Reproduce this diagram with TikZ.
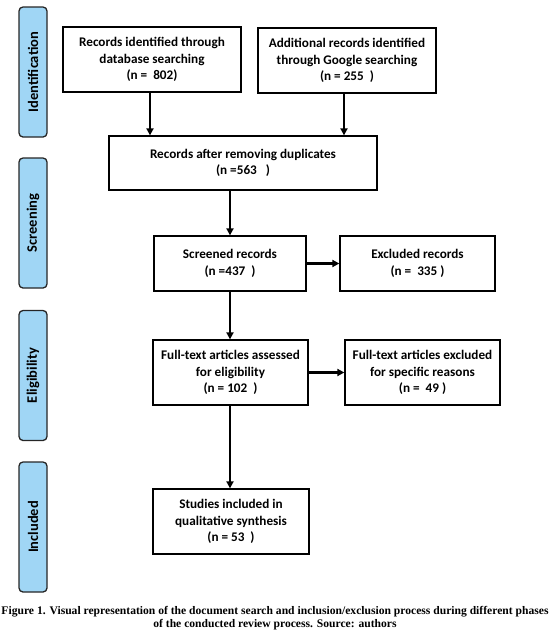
\documentclass[tikz,border=0pt]{standalone}
\usepackage{fontspec}
\setmainfont{Carlito}
\newfontfamily\capfont{Liberation Serif}
\usetikzlibrary{arrows.meta}
\definecolor{phaseblue}{RGB}{160,214,245}
\tikzset{
  box/.style={draw=black, line width=1.3pt, fill=white, inner sep=0pt, align=center,
    font=\fontsize{13.2}{16.5}\selectfont\bfseries},
  phase/.style={draw=black!85, line width=1.3pt, fill=phaseblue, rounded corners=4pt,
    minimum width=28pt, minimum height=130pt, inner sep=0pt},
  phasetext/.style={rotate=90, font=\fontsize{14.5}{16}\selectfont\bfseries},
  flow/.style={-{Triangle[length=7pt,width=7pt]}, line width=2.3pt},
}
\begin{document}
\begin{tikzpicture}[x=1pt,y=-1pt]
\useasboundingbox (0,0) rectangle (550,638);
% phase labels
\node[phase] (pid) at (33,72) {};
\node[phasetext] (tid) at (pid.center) {Identification};
\node[phase] (psc) at (33,223) {};
\node[phasetext] (tsc) at (psc.center) {Screening};
\node[phase] (pel) at (33,375.5) {};
\node[phasetext] (tel) at (pel.center) {Eligibility};
\node[phase] (pin) at (33,527) {};
\node[phasetext] (tin) at (pin.center) {Included};
% boxes
\node[box, minimum width=178pt, minimum height=65pt] (db) at (152,59.5)
  {Records identified through\\database searching\\(n =\ \ 802)};
\node[box, minimum width=178pt, minimum height=65pt] (gs) at (347,60.5)
  {Additional records identified\\through Google searching\\(n = 255\ \ )};
\node[box, minimum width=268pt, minimum height=54pt] (dup) at (243,163)
  {Records after removing duplicates\\(n =563\ \ \ )};
\node[box, minimum width=152pt, minimum height=55pt] (scr) at (230,263.5)
  {Screened records\\(n =437\ \ )};
\node[box, minimum width=155pt, minimum height=55pt] (exc) at (417.5,263.5)
  {Excluded records\\(n =\ \ 335 )};
\node[box, minimum width=155pt, minimum height=65pt] (ft) at (230.5,372.5)
  {Full-text articles assessed\\for eligibility\\(n = 102\ \ )};
\node[box, minimum width=155pt, minimum height=65pt] (fte) at (422.5,372.5)
  {Full-text articles excluded\\for specific reasons\\(n =\ \ 49 )};
\node[box, minimum width=156pt, minimum height=65pt] (inc) at (231,521.5)
  {Studies included in\\qualitative synthesis\\(n = 53\ \ )};
% arrows
\coordinate (a1) at (150,92);
\coordinate (a2) at (344,93);
\draw[flow] (a1) -- (a1 |- dup.north);
\draw[flow] (a2) -- (a2 |- dup.north);
\draw[flow] (scr.north |- dup.south) -- (scr.north);
\draw[flow] (scr.east) -- (exc.west);
\draw[flow] (scr.south) -- (ft.north -| scr.south);
\draw[flow] (ft.east) -- (fte.west);
\draw[flow] (ft.south -| scr.south) -- (inc.north -| scr.south);
% caption
\node[font=\capfont\fontsize{11.6}{12.5}\selectfont\bfseries, align=center] (cap) at (275,618)
  {Figure 1. Visual representation of the document search and inclusion/exclusion process during different phases\\of the conducted review process. Source: authors};
\end{tikzpicture}
\end{document}
